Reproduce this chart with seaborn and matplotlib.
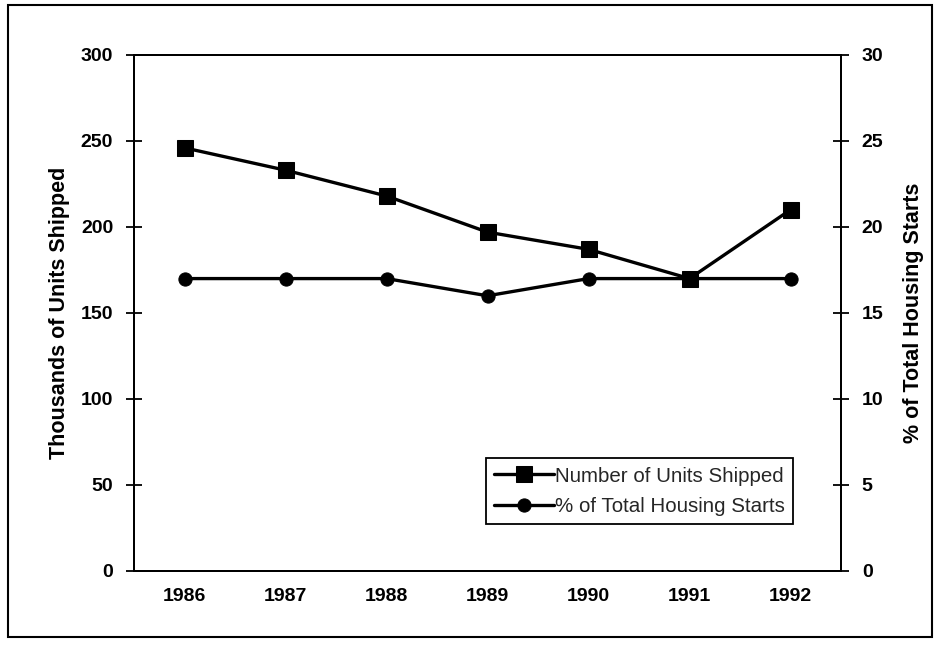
import numpy as np
import pandas as pd
import matplotlib
matplotlib.use("Agg")
import matplotlib.pyplot as plt
from matplotlib.patches import Rectangle
from matplotlib.ticker import FixedLocator
import seaborn as sns

# data
years = ["1986", "1987", "1988", "1989", "1990", "1991", "1992"]
units_shipped = [246, 233, 218, 197, 187, 170, 210]      # thousands
pct_housing = [17, 17, 17, 16, 17, 17, 17]               # % of total starts

sns.set_theme(style="white")
plt.rcParams["font.family"] = ["Liberation Sans", "DejaVu Sans"]

df = pd.DataFrame({"pos": np.arange(len(years)),
                   "units": units_shipped,
                   "pct": pct_housing})

fig = plt.figure(figsize=(9.4, 6.49), dpi=100)
ax = fig.add_axes([0.1426, 0.1202, 0.7521, 0.7951])
ax2 = ax.twinx()

sns.lineplot(data=df, x="pos", y="units", ax=ax, color="black", lw=2.4,
             marker="s", markersize=11, markeredgecolor="black",
             label="Number of Units Shipped", legend=False)
sns.lineplot(data=df, x="pos", y="pct", ax=ax2, color="black", lw=2.4,
             marker="o", markersize=9.5, markeredgecolor="black",
             label="% of Total Housing Starts", legend=False)

ax.set_xlim(-0.5, len(years) - 0.5)
ax.set_ylim(0, 300)
ax2.set_ylim(0, 30)
ax.set_yticks(range(0, 301, 50))
ax2.set_yticks(range(0, 31, 5))

# category labels centred, ticks on the boundaries between categories
ax.set_xticks(df["pos"])
ax.set_xticklabels(years)
ax.xaxis.set_minor_locator(FixedLocator(np.arange(0.5, len(years) - 1, 1)))
ax.tick_params(axis="x", which="major", length=0, pad=12)
ax.tick_params(axis="x", which="minor", length=7, width=1.3, color="black",
               direction="out")
ax.tick_params(axis="y", length=12, width=1.3, color="black", direction="inout",
               pad=9, left=True)
ax2.tick_params(axis="y", length=12, width=1.3, color="black", direction="inout",
                pad=9, right=True)

for a in (ax, ax2):
    for s in a.spines.values():
        s.set_color("black")
        s.set_linewidth(1.4)
    for lab in a.get_xticklabels() + a.get_yticklabels():
        lab.set_fontweight("bold")
        lab.set_fontsize(14)
        lab.set_color("black")
    a.grid(False)

ax.set_xlabel("")
ax.set_ylabel("Thousands of Units Shipped", fontsize=15.5, fontweight="bold",
              color="black", labelpad=8)
ax2.set_ylabel("% of Total Housing Starts", fontsize=15.5, fontweight="bold",
               color="black", labelpad=14)

h1, l1 = ax.get_legend_handles_labels()
h2, l2 = ax2.get_legend_handles_labels()
leg = ax2.legend(h1 + h2, l1 + l2, loc="lower right",
                 bbox_to_anchor=(0.932, 0.091), frameon=True, fancybox=False,
                 framealpha=1, edgecolor="black", fontsize=14.8, handlelength=2.9,
                 handletextpad=0.05, borderpad=0.4, labelspacing=0.55,
                 borderaxespad=0)
leg.get_frame().set_linewidth(1.3)

# outer frame around the whole figure
fig.patches.append(Rectangle((0.008, 0.018), 0.984, 0.974, transform=fig.transFigure,
                             fill=False, edgecolor="black", lw=1.5))

fig.savefig("out.png", dpi=100)
